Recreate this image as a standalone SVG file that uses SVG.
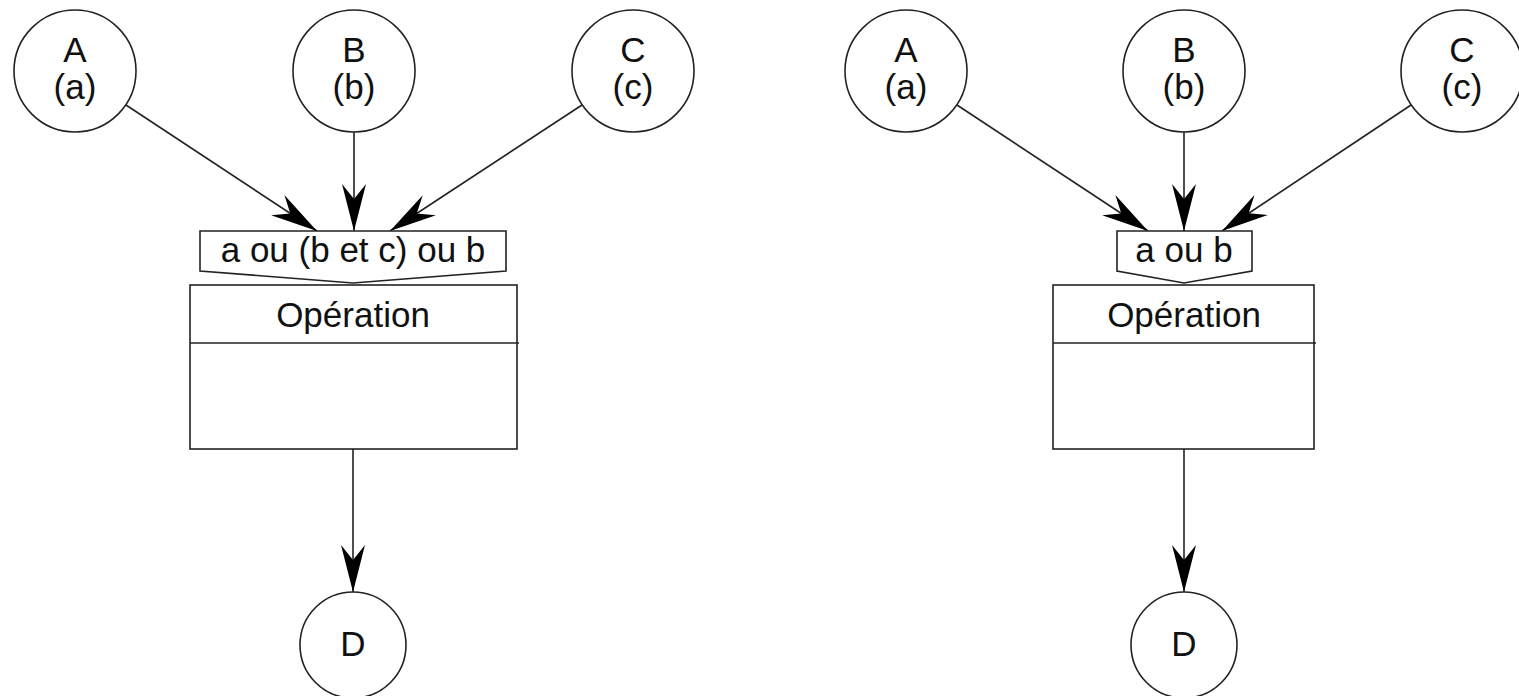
<svg xmlns="http://www.w3.org/2000/svg" width="1519" height="696" viewBox="0 0 1519 696">
<defs>
<style>
.n{fill:#fff;stroke:#222;stroke-width:1.6}
.t{font-family:"Liberation Sans",Arial,sans-serif;font-size:35px;fill:#111;text-anchor:middle}
.c{stroke:#222;stroke-width:1.6;fill:none;marker-end:url(#ah)}
</style>
<marker id="ah" markerUnits="userSpaceOnUse" viewBox="-48 -13 50 26" refX="0" refY="0" markerWidth="50" markerHeight="26" orient="auto">
<path d="M0,0 L-47,-12 L-32,0 L-47,12 Z" fill="#000"/>
</marker>
</defs>
<rect width="1519" height="696" fill="#fff"/>
<g id="connectors">
<line class="c" x1="126" y1="105" x2="317" y2="231"/>
<line class="c" x1="354" y1="132" x2="354" y2="231"/>
<line class="c" x1="582" y1="105" x2="390" y2="231"/>
<line class="c" x1="353" y1="449" x2="353" y2="592"/>
<line class="c" x1="957" y1="105" x2="1148" y2="231"/>
<line class="c" x1="1184" y1="132" x2="1184" y2="231"/>
<line class="c" x1="1411" y1="105" x2="1222" y2="231"/>
<line class="c" x1="1184" y1="449" x2="1184" y2="592"/>
</g>
<g id="A1"><circle class="n" cx="75" cy="71" r="61"/><text class="t" x="75" y="62">A</text><text class="t" x="75" y="99">(a)</text></g>
<g id="B1"><circle class="n" cx="354" cy="71" r="61"/><text class="t" x="354" y="62">B</text><text class="t" x="354" y="99">(b)</text></g>
<g id="C1"><circle class="n" cx="633" cy="71" r="61"/><text class="t" x="633" y="62">C</text><text class="t" x="633" y="99">(c)</text></g>
<g id="cond1"><polygon class="n" points="200,231 506,231 506,271 353,283 200,271"/><text class="t" x="353" y="262">a ou (b et c) ou b</text></g>
<g id="op1"><rect class="n" x="190" y="285" width="327" height="164"/><line class="n" x1="190" y1="343" x2="519" y2="343"/><text class="t" x="353" y="327">Opération</text></g>
<g id="D1"><circle class="n" cx="353" cy="645" r="53"/><text class="t" x="353" y="656">D</text></g>
<g id="A2"><circle class="n" cx="906" cy="71" r="61"/><text class="t" x="906" y="62">A</text><text class="t" x="906" y="99">(a)</text></g>
<g id="B2"><circle class="n" cx="1184" cy="71" r="61"/><text class="t" x="1184" y="62">B</text><text class="t" x="1184" y="99">(b)</text></g>
<g id="C2"><circle class="n" cx="1462" cy="71" r="61"/><text class="t" x="1462" y="62">C</text><text class="t" x="1462" y="99">(c)</text></g>
<g id="cond2"><polygon class="n" points="1117,231 1252,231 1252,271 1184,283 1117,271"/><text class="t" x="1184" y="262">a ou b</text></g>
<g id="op2"><rect class="n" x="1053" y="285" width="261" height="164"/><line class="n" x1="1053" y1="343" x2="1316" y2="343"/><text class="t" x="1184" y="327">Opération</text></g>
<g id="D2"><circle class="n" cx="1184" cy="645" r="53"/><text class="t" x="1184" y="656">D</text></g>
</svg>
